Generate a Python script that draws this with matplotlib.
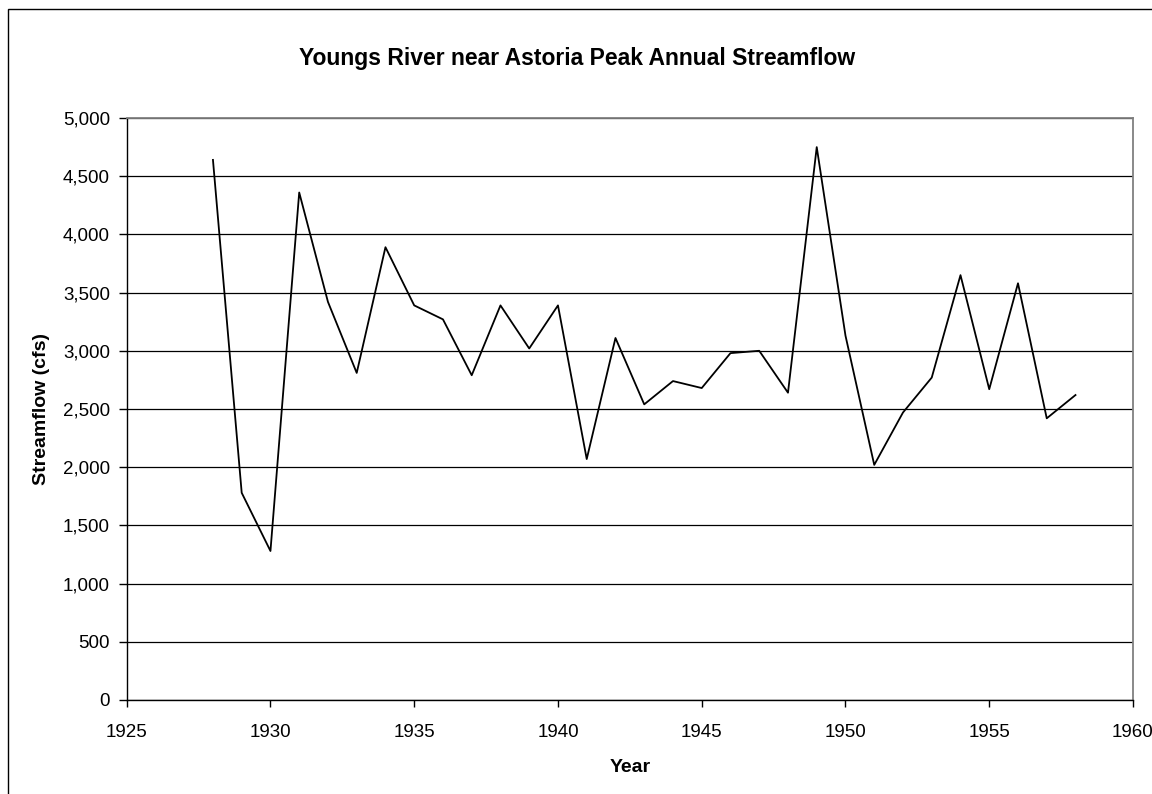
import matplotlib
matplotlib.use("Agg")
import matplotlib.pyplot as plt
from matplotlib.ticker import FuncFormatter, MultipleLocator
from matplotlib.patches import Rectangle

plt.rcParams['font.family'] = ['Liberation Sans', 'DejaVu Sans']

years = list(range(1928, 1959))
flows = [4640, 1780, 1280, 4360, 3420, 2810, 3890, 3390, 3270, 2790,
         3390, 3020, 3390, 2070, 3110, 2540, 2740, 2680, 2980, 3000,
         2640, 4750, 3130, 2020, 2470, 2770, 3650, 2670, 3580, 2420, 2620]
title = "Youngs River near Astoria Peak Annual Streamflow"
xlabel = "Year"
ylabel = "Streamflow (cfs)"

W, H = 1152, 794
fig = plt.figure(figsize=(W / 100, H / 100), dpi=100)
ax = fig.add_axes([126.7 / W, 1 - 700 / H, (1133 - 126.7) / W, (700 - 118) / H])

# outer chart border
fig.patches.append(Rectangle((7.5 / W, -0.1), 1.2, 1 - 8.5 / H + 0.1,
                             transform=fig.transFigure, fill=False,
                             edgecolor='black', linewidth=1.0))

ax.plot(years, flows, color='black', linewidth=1.3, zorder=3)

ax.set_xlim(1925, 1960)
ax.set_ylim(0, 5000)
ax.xaxis.set_major_locator(MultipleLocator(5))
ax.yaxis.set_major_locator(MultipleLocator(500))
ax.yaxis.set_major_formatter(FuncFormatter(lambda v, p: f"{int(v):,}"))
ax.grid(axis='y', color='black', linewidth=0.9, zorder=1)
ax.set_axisbelow(True)

for s in ['top', 'right']:
    ax.spines[s].set_color('#808080')
    ax.spines[s].set_linewidth(1.3)
for s in ['left', 'bottom']:
    ax.spines[s].set_color('black')
    ax.spines[s].set_linewidth(1.0)

ax.tick_params(axis='both', direction='out', width=1.0,
               colors='black', labelsize=13.5)
ax.tick_params(axis='y', length=6, pad=6)
ax.tick_params(axis='x', length=5, pad=12)

ax.set_xlabel(xlabel, fontsize=14, fontweight='bold', labelpad=13.5)
ax.set_ylabel(ylabel, fontsize=14, fontweight='bold', labelpad=9)
fig.text(577 / W, 1 - 59 / H, title, ha='center', va='center',
         fontsize=16.5, fontweight='bold')

fig.savefig("out.png", dpi=100)
